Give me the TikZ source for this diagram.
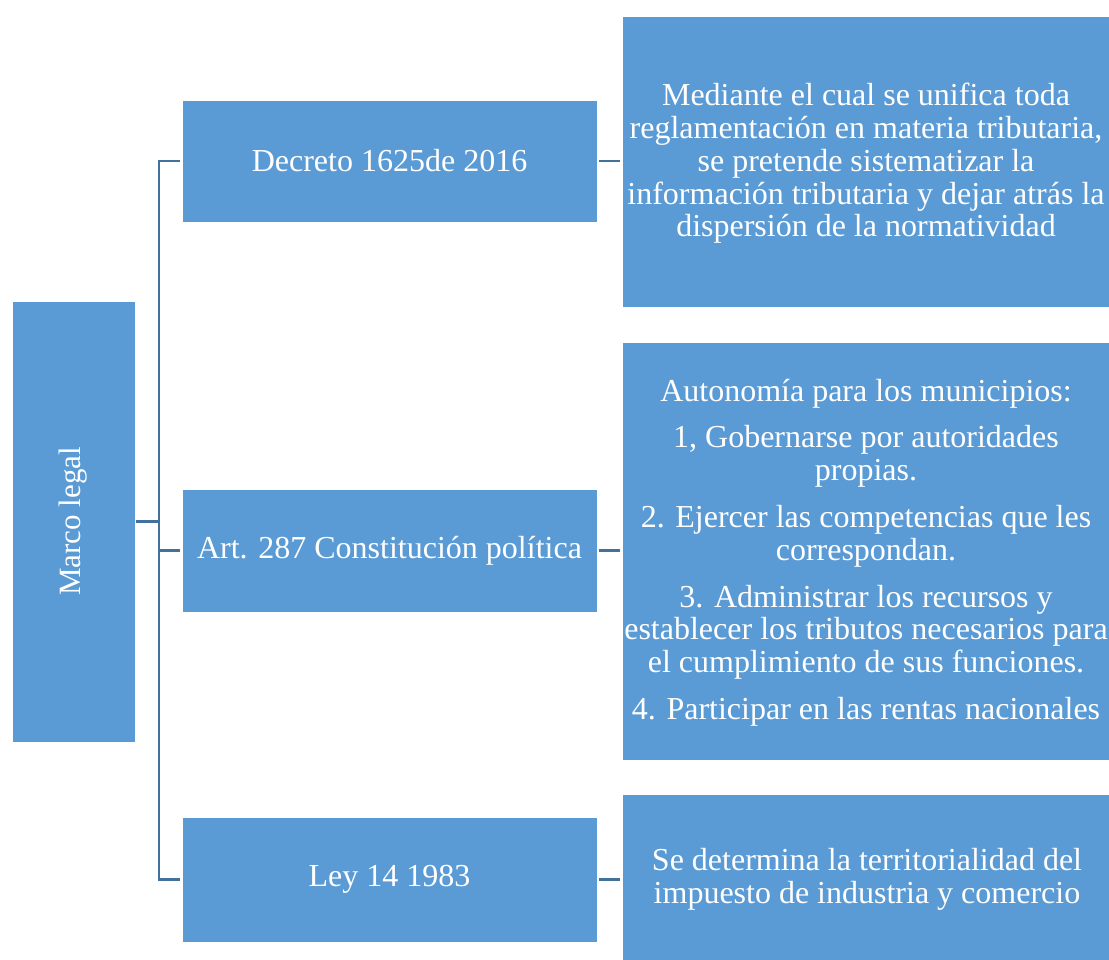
\documentclass[tikz,border=0pt]{standalone}
\usepackage{fontspec}
\setmainfont{Liberation Serif}
\definecolor{boxblue}{HTML}{5B9BD5}
\definecolor{linkblue}{HTML}{41719C}
\begin{document}
\begin{tikzpicture}[x=1pt,y=-1pt,
  box/.style={rectangle, fill=boxblue, draw=white, line width=0.8pt, inner sep=0pt, text=white, align=center},
  big/.style={font=\fontsize{32}{32.8}\selectfont},
  mid/.style={font=\fontsize{32}{34}\selectfont},
  side/.style={font=\fontsize{31}{34}\selectfont},
  conn/.style={draw=linkblue, line width=2.6pt}]
\useasboundingbox (0,0) rectangle (1109,960);
\clip (0,0) rectangle (1109,960);
\fill[white] (0,0) rectangle (1109,960);
% left box
\node[box, minimum width=123, minimum height=441] (marco) at (73.5,521.5) {};
\node[text=white, side, rotate=90, inner sep=0pt] (marcot) at (marco.center) {Marco legal};
% middle boxes
\node[box, mid, minimum width=415, minimum height=122] (dec) at (389.5,161) {Decreto 1625de 2016};
\node[box, mid, minimum width=415, minimum height=123] (art) at (389.5,550.5) {Art. 287 Constitución política};
\node[box, mid, minimum width=415, minimum height=125] (ley) at (389.5,879.5) {Ley 14 1983};
% right boxes
\node[box, big, minimum width=490, minimum height=290.5] (r1) at (867,161.75) {};
\node[text=white, big, align=center, inner sep=0pt] (r1t) at (866,163.5)
  {Mediante el cual se unifica toda\\reglamentación en materia tributaria,\\se pretende sistematizar la\\información tributaria y dejar atrás la\\dispersión de la normatividad};
\node[box, big, minimum width=490, minimum height=418] (r2) at (867,551) {};
\node[text=white, big, align=center, inner sep=0pt] (r2t) at (866,552.5)
  {Autonomía para los municipios:\\[14pt]1, Gobernarse por autoridades\\propias.\\[14pt]2. Ejercer las competencias que les\\correspondan.\\[14pt]3. Administrar los recursos y\\establecer los tributos necesarios para\\el cumplimiento de sus funciones.\\[14pt]4. Participar en las rentas nacionales};
\node[box, big, minimum width=490, minimum height=171] (r3) at (867,879.5)
  {Se determina la territorialidad del\\impuesto de industria y comercio};
% connectors
\coordinate (tk) at (159,0);
\draw[conn, shorten <=1pt] (marco.east) -- (marco.east -| tk);
\draw[conn, shorten <=2pt, shorten >=2pt] (dec.west) -- (dec.west -| tk) -- (ley.west -| tk) -- (ley.west);
\draw[conn, shorten <=2pt] (art.west) -- (art.west -| tk);
\draw[conn, shorten <=2pt, shorten >=2pt] (dec.east) -- (dec.east -| r1.west);
\draw[conn, shorten <=2pt, shorten >=2pt] (art.east) -- (art.east -| r2.west);
\draw[conn, shorten <=2pt, shorten >=2pt] (ley.east) -- (ley.east -| r3.west);
\end{tikzpicture}
\end{document}
